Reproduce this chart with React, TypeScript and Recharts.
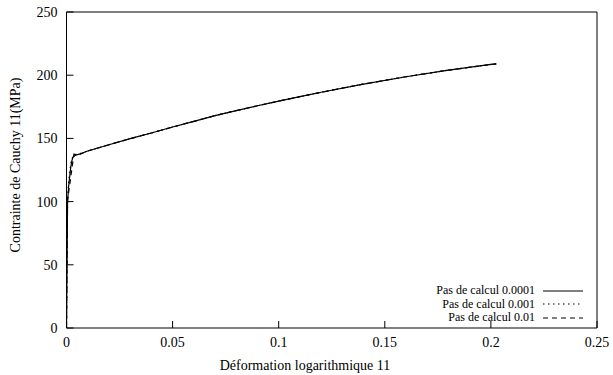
import React from "react";
import { LineChart, Line, XAxis, YAxis, ReferenceLine, Label } from "recharts";

// Pas de calcul 0.0001
const strainFine = [0, 0.0005, 0.001, 0.0015, 0.002, 0.0025, 0.003, 0.004, 0.006, 0.01, 0.02, 0.03, 0.04, 0.05, 0.06, 0.07, 0.08, 0.09, 0.1, 0.11, 0.12, 0.14, 0.16, 0.18, 0.2, 0.2025];
const stressFine = [0, 100, 112, 120, 127, 132, 135, 136.5, 137.5, 140, 145, 149.8, 154.3, 159, 163.5, 168, 172, 175.8, 179.5, 183, 186.5, 193, 198.8, 204, 208.5, 209];

// Pas de calcul 0.001
const strainMid = [0, 0.0005, 0.001, 0.002, 0.003, 0.004, 0.006, 0.01, 0.02, 0.03, 0.04, 0.05, 0.06, 0.07, 0.08, 0.09, 0.1, 0.11, 0.12, 0.14, 0.16, 0.18, 0.2, 0.2025];
const stressMid = [0, 100, 115, 130, 136, 137, 137.8, 140, 145, 149.8, 154.3, 159, 163.5, 168, 172, 175.8, 179.5, 183, 186.5, 193, 198.8, 204, 208.5, 209];

// Pas de calcul 0.01
const strainCoarse = [0, 0.0004, 0.0035, 0.006, 0.01, 0.02, 0.03, 0.04, 0.05, 0.06, 0.07, 0.08, 0.09, 0.1, 0.11, 0.12, 0.14, 0.16, 0.18, 0.2, 0.2025];
const stressCoarse = [0, 100, 137.5, 137.2, 140, 145, 149.8, 154.3, 159, 163.5, 168, 172, 175.8, 179.5, 183, 186.5, 193, 198.8, 204, 208.5, 209];

const xTicks = [0, 0.05, 0.1, 0.15, 0.2, 0.25];
const yTicks = [0, 50, 100, 150, 200, 250];

const seriesNames = ["Pas de calcul 0.0001", "Pas de calcul 0.001", "Pas de calcul 0.01"];
const dashes = ["", "1.5 3.5", "5 4"];

const toRows = (xs: number[], ys: number[]) => xs.map((x, i) => ({ x, y: ys[i] }));
const series = [
  toRows(strainFine, stressFine),
  toRows(strainMid, stressMid),
  toRows(strainCoarse, stressCoarse),
];

const FONT = "Liberation Serif, Times New Roman, serif";

const YTick = (props: any) => {
  const { x, y, payload } = props;
  return (
    <g>
      <line x1={x} y1={y} x2={x + 7} y2={y} stroke="#000" strokeWidth={1} />
      <text x={x - 9} y={y} dy="0.35em" textAnchor="end" fontSize={14} fontFamily={FONT} fill="#000">
        {payload.value}
      </text>
    </g>
  );
};

const XTick = (props: any) => {
  const { x, y, payload } = props;
  return (
    <g>
      <line x1={x} y1={y} x2={x} y2={y - 7} stroke="#000" strokeWidth={1} />
      <text x={x} y={y + 19} textAnchor="middle" fontSize={14} fontFamily={FONT} fill="#000">
        {payload.value}
      </text>
    </g>
  );
};

export default function App() {
  return (
    <div style={{ position: "absolute", left: 0, top: 0, width: 613, height: 375, background: "#fff", fontFamily: FONT }}>
      <LineChart width={613} height={375} margin={{ top: 12, right: 16, bottom: 0, left: 0 }}>
        <XAxis
          type="number"
          dataKey="x"
          domain={[0, 0.25]}
          ticks={xTicks}
          tick={<XTick />}
          tickLine={false}
          tickSize={0}
          tickMargin={0}
          height={47}
          axisLine={{ stroke: "#000", strokeWidth: 1 }}
          allowDataOverflow
        >
          <Label
            content={() => (
              <text x={305} y={370} textAnchor="middle" fontSize={14} fontFamily={FONT} fill="#000">
                Déformation logarithmique 11
              </text>
            )}
          />
        </XAxis>
        <YAxis
          type="number"
          dataKey="y"
          domain={[0, 250]}
          ticks={yTicks}
          tick={<YTick />}
          tickLine={false}
          tickSize={0}
          tickMargin={0}
          width={66.5}
          axisLine={{ stroke: "#000", strokeWidth: 1 }}
          allowDataOverflow
        >
          <Label
            content={() => (
              <text
                x={15}
                y={165}
                transform="rotate(-90 15 165)"
                dy="0.35em"
                textAnchor="middle"
                fontSize={14}
                fontFamily={FONT}
                fill="#000"
              >
                Contrainte de Cauchy 11(MPa)
              </text>
            )}
          />
        </YAxis>
        <ReferenceLine y={250} stroke="#000" strokeWidth={1} ifOverflow="extendDomain" />
        <ReferenceLine x={0.25} stroke="#000" strokeWidth={1} ifOverflow="extendDomain" />
        {series.map((d, i) => (
          <Line
            key={seriesNames[i]}
            data={d}
            dataKey="y"
            name={seriesNames[i]}
            type="linear"
            stroke="#000"
            strokeWidth={1.2}
            strokeDasharray={dashes[i] || undefined}
            dot={false}
            activeDot={false}
            isAnimationActive={false}
          />
        ))}
      </LineChart>
      <div style={{ position: "absolute", left: 380, top: 284, width: 210, fontFamily: FONT }}>
        {seriesNames.map((n, i) => (
          <div
            key={n}
            style={{ display: "flex", justifyContent: "flex-end", alignItems: "center", height: 13.5, lineHeight: "13.5px", fontSize: 12, color: "#000", whiteSpace: "nowrap" }}
          >
            <span>{n}</span>
            <svg width={40} height={4} style={{ marginLeft: 8, marginRight: 7 }}>
              <line x1={0} y1={2} x2={40} y2={2} stroke="#000" strokeWidth={1.2} strokeDasharray={dashes[i] || undefined} />
            </svg>
          </div>
        ))}
      </div>
    </div>
  );
}
